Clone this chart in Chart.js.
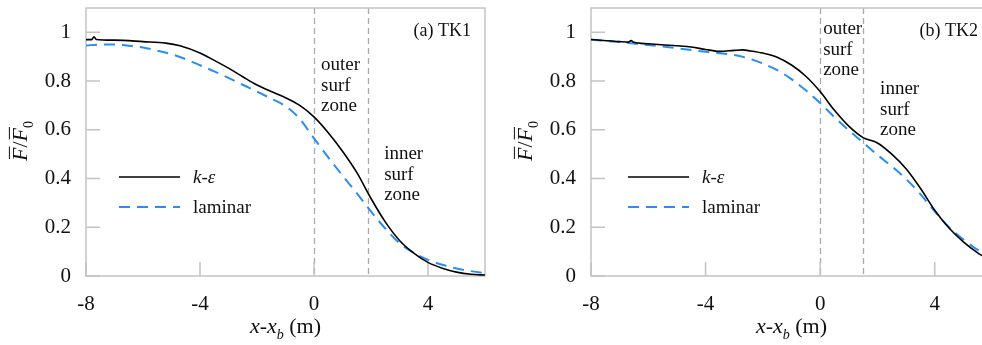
<!DOCTYPE html>
<html>
<head>
<meta charset="utf-8">
<script src="https://cdn.jsdelivr.net/npm/chart.js@4.4.0/dist/chart.umd.min.js"></script>
<style>
    html, body { margin: 0; padding: 0; background: #fff; width: 982px; height: 345px; overflow: hidden; position: relative; }
    canvas { position: absolute; top: 0; }
</style>
</head>
<body>
<canvas id="chartTK1" width="491" height="345" style="left:0"></canvas>
<canvas id="chartTK2" width="506" height="345" style="left:491px"></canvas>
<script>
// Eixos comuns
const xTicks = [-8, -4, 0, 4];
const yTicks = [0, 0.2, 0.4, 0.6, 0.8, 1];
const seriesNames = ['k-ε', 'laminar'];
const zoneNames = [['outer', 'surf', 'zone'], ['inner', 'surf', 'zone']];

// (a) TK1
const xKe1 = [-8, -7.8, -7.72, -7.64, -7, -6, -5.2, -4.7, -4, -3.5, -3, -2.5, -2, -1.5, -1, -0.5, 0, 0.5, 1, 1.5, 2, 2.5, 3, 3.5, 4, 4.5, 5, 5.5, 6];
const ke1 = [0.970, 0.970, 0.982, 0.971, 0.968, 0.962, 0.956, 0.945, 0.915, 0.885, 0.853, 0.818, 0.784, 0.757, 0.732, 0.700, 0.653, 0.588, 0.512, 0.425, 0.318, 0.222, 0.146, 0.094, 0.056, 0.032, 0.016, 0.007, 0.004];
const xLam1 = [-8, -7.5, -7, -6.5, -6, -5.5, -5, -4.5, -4, -3.5, -3, -2.5, -2, -1.5, -1, -0.5, 0, 0.5, 1, 1.5, 2, 2.5, 3, 3.5, 4, 4.5, 5, 5.5, 6];
const lam1 = [0.946, 0.950, 0.950, 0.945, 0.938, 0.925, 0.910, 0.890, 0.865, 0.840, 0.813, 0.785, 0.757, 0.728, 0.697, 0.645, 0.565, 0.487, 0.412, 0.340, 0.265, 0.195, 0.135, 0.095, 0.066, 0.046, 0.031, 0.020, 0.012];
const zones1 = [0, 1.9];

// (b) TK2
const xKe2 = [-8, -7, -6.7, -6.6, -6.5, -6, -5, -4.5, -4, -3.5, -3, -2.7, -2.5, -2, -1.5, -1, -0.5, 0, 0.5, 1, 1.5, 2, 2.5, 3, 3.5, 4, 4.5, 5, 5.5, 6];
const ke2 = [0.971, 0.962, 0.960, 0.966, 0.959, 0.953, 0.945, 0.940, 0.930, 0.922, 0.926, 0.928, 0.925, 0.915, 0.898, 0.866, 0.820, 0.757, 0.680, 0.615, 0.568, 0.546, 0.500, 0.440, 0.360, 0.270, 0.197, 0.140, 0.095, 0.060];
const xLam2 = [-8, -7, -6, -5, -4, -3, -2.5, -2, -1.5, -1, -0.5, 0, 0.5, 1, 1.5, 2, 2.5, 3, 3.5, 4, 4.5, 5, 5.5, 6];
const lam2 = [0.970, 0.960, 0.948, 0.935, 0.920, 0.907, 0.893, 0.872, 0.845, 0.808, 0.762, 0.710, 0.652, 0.598, 0.548, 0.497, 0.450, 0.398, 0.336, 0.265, 0.200, 0.150, 0.107, 0.075];
const zones2 = [0, 1.5];

const SERIF = "'Liberation Serif', 'Times New Roman', serif";

function toPoints(xs, ys) {
    return xs.map((x, i) => ({ x: x, y: ys[i] }));
}

// desenha texto em partes (itálico / subscrito), centrado em cx
function drawRich(ctx, parts, cx, baseY, size) {
    const fontOf = p => (p.it ? 'italic ' : '') + (p.sub ? Math.round(size * 0.65) : size) + 'px ' + SERIF;
    let total = 0;
    parts.forEach(p => { ctx.font = fontOf(p); total += ctx.measureText(p.t).width; });
    let x = cx - total / 2;
    ctx.textBaseline = 'alphabetic';
    ctx.textAlign = 'left';
    parts.forEach(p => {
        ctx.font = fontOf(p);
        ctx.fillText(p.t, x, baseY + (p.sub ? size * 0.25 : 0));
        if (p.bar) {
            const w = ctx.measureText(p.t).width;
            ctx.beginPath();
            ctx.moveTo(x + 2, baseY - size * 0.8);
            ctx.lineTo(x + w + 1, baseY - size * 0.8);
            ctx.stroke();
        }
        x += ctx.measureText(p.t).width;
    });
}

const decor = {
    id: 'decor',
    beforeDatasetsDraw(chart, args, opts) {
        const { ctx, chartArea: a, scales: { x, y } } = chart;
        ctx.save();
        // limites das zonas de rebentação
        ctx.strokeStyle = '#a9a9a9';
        ctx.lineWidth = 1.3;
        ctx.setLineDash([6, 4]);
        opts.zones.forEach(z => {
            const px = Math.round(x.getPixelForValue(z)) + 0.5;
            ctx.beginPath();
            ctx.moveTo(px, a.top);
            ctx.lineTo(px, a.bottom);
            ctx.stroke();
        });
        ctx.setLineDash([]);
        // moldura + ticks para dentro
        ctx.strokeStyle = '#c3c3c3';
        ctx.lineWidth = 1.5;
        ctx.strokeRect(a.left, a.top, a.right - a.left, a.bottom - a.top);
        ctx.beginPath();
        xTicks.forEach(v => {
            const px = x.getPixelForValue(v);
            ctx.moveTo(px, a.bottom);
            ctx.lineTo(px, a.bottom - 14);
        });
        yTicks.forEach(v => {
            const py = y.getPixelForValue(v);
            ctx.moveTo(a.left, py);
            ctx.lineTo(a.left + 14, py);
        });
        ctx.stroke();
        ctx.restore();
    },
    afterDraw(chart, args, opts) {
        const { ctx, chartArea: a, scales: { x } } = chart;
        ctx.save();
        ctx.fillStyle = '#111';
        ctx.strokeStyle = '#111';
        ctx.lineWidth = 1;

        // etiqueta do painel
        ctx.font = '18px ' + SERIF;
        ctx.textAlign = 'right';
        ctx.textBaseline = 'alphabetic';
        ctx.fillText(opts.tag, a.right - 14, a.top + 28);

        // texto das zonas
        ctx.font = '19px ' + SERIF;
        ctx.textAlign = 'left';
        zoneNames.forEach((lines, i) => {
            const zx = x.getPixelForValue(opts.zones[i]) + opts.zoneDx[i];
            lines.forEach((t, j) => ctx.fillText(t, zx, opts.zoneY[i] + j * 20.5));
        });

        // legenda
        chart.data.datasets.forEach((ds, i) => {
            const ly = a.top + 169 + i * 30;
            const lx = a.left + opts.legendX;
            ctx.save();
            ctx.strokeStyle = ds.borderColor;
            ctx.lineWidth = ds.borderWidth;
            ctx.setLineDash(ds.borderDash || []);
            ctx.beginPath();
            ctx.moveTo(lx, ly);
            ctx.lineTo(lx + 61, ly);
            ctx.stroke();
            ctx.restore();
            ctx.font = (i === 0 ? 'italic ' : '') + '19px ' + SERIF;
            ctx.textBaseline = 'middle';
            ctx.fillText(ds.label, lx + 74, ly + 1);
        });

        // título do eixo x
        drawRich(ctx, [
            { t: 'x', it: true }, { t: '-' }, { t: 'x', it: true }, { t: 'b', it: true, sub: true }, { t: ' (m)' }
        ], (a.left + a.right) / 2, 333, 22);

        // título do eixo y (rodado)
        ctx.translate(a.left - 59, 141);
        ctx.rotate(-Math.PI / 2);
        drawRich(ctx, [
            { t: 'F', it: true, bar: true }, { t: '/' }, { t: 'F', it: true, bar: true }, { t: '0', sub: true }
        ], 0, 0, 22);
        ctx.restore();
    }
};

function makePanel(canvasId, xKe, ke, xLam, lam, panel) {
    return new Chart(document.getElementById(canvasId), {
        type: 'line',
        data: {
            datasets: [{
                label: seriesNames[0],
                data: toPoints(xKe, ke),
                borderColor: '#000000',
                borderWidth: 1.6,
                pointRadius: 0,
                cubicInterpolationMode: 'monotone'
            }, {
                label: seriesNames[1],
                data: toPoints(xLam, lam),
                borderColor: '#2a8ef0',
                borderWidth: 2,
                borderDash: [11, 7],
                pointRadius: 0,
                cubicInterpolationMode: 'monotone'
            }]
        },
        options: {
            responsive: false,
            animation: false,
            devicePixelRatio: 1,
            layout: { padding: { top: 8, right: panel.padRight, left: 0, bottom: 0 } },
            plugins: {
                legend: { display: false },
                tooltip: { enabled: false },
                decor: panel
            },
            scales: {
                x: {
                    type: 'linear',
                    min: -8, max: 6,
                    grid: { display: false, drawTicks: false },
                    border: { display: false },
                    afterBuildTicks: s => { s.ticks = xTicks.map(v => ({ value: v })); },
                    afterFit: s => { s.height = 69; s.paddingLeft = 0; s.paddingRight = 0; },
                    ticks: { color: '#111', padding: 16, maxRotation: 0, font: { family: SERIF, size: 21 } }
                },
                y: {
                    min: 0, max: 1.1,
                    grid: { display: false, drawTicks: false },
                    border: { display: false },
                    afterBuildTicks: s => { s.ticks = yTicks.map(v => ({ value: v })); },
                    afterFit: s => { s.width = panel.yWidth; s.paddingTop = 0; s.paddingBottom = 0; },
                    ticks: {
                        color: '#111', padding: 15, font: { family: SERIF, size: 21 },
                        callback: v => String(Math.round(v * 10) / 10)
                    }
                }
            }
        },
        plugins: [decor]
    });
}

makePanel('chartTK1', xKe1, ke1, xLam1, lam1, {
    tag: '(a) TK1', zones: zones1, zoneDx: [7, 16], zoneY: [70, 159],
    legendX: 33, yWidth: 86, padRight: 6
});
makePanel('chartTK2', xKe2, ke2, xLam2, lam2, {
    tag: '(b) TK2', zones: zones2, zoneDx: [3, 17], zoneY: [34, 94],
    legendX: 37, yWidth: 100, padRight: 5
});
</script>
</body>
</html>
